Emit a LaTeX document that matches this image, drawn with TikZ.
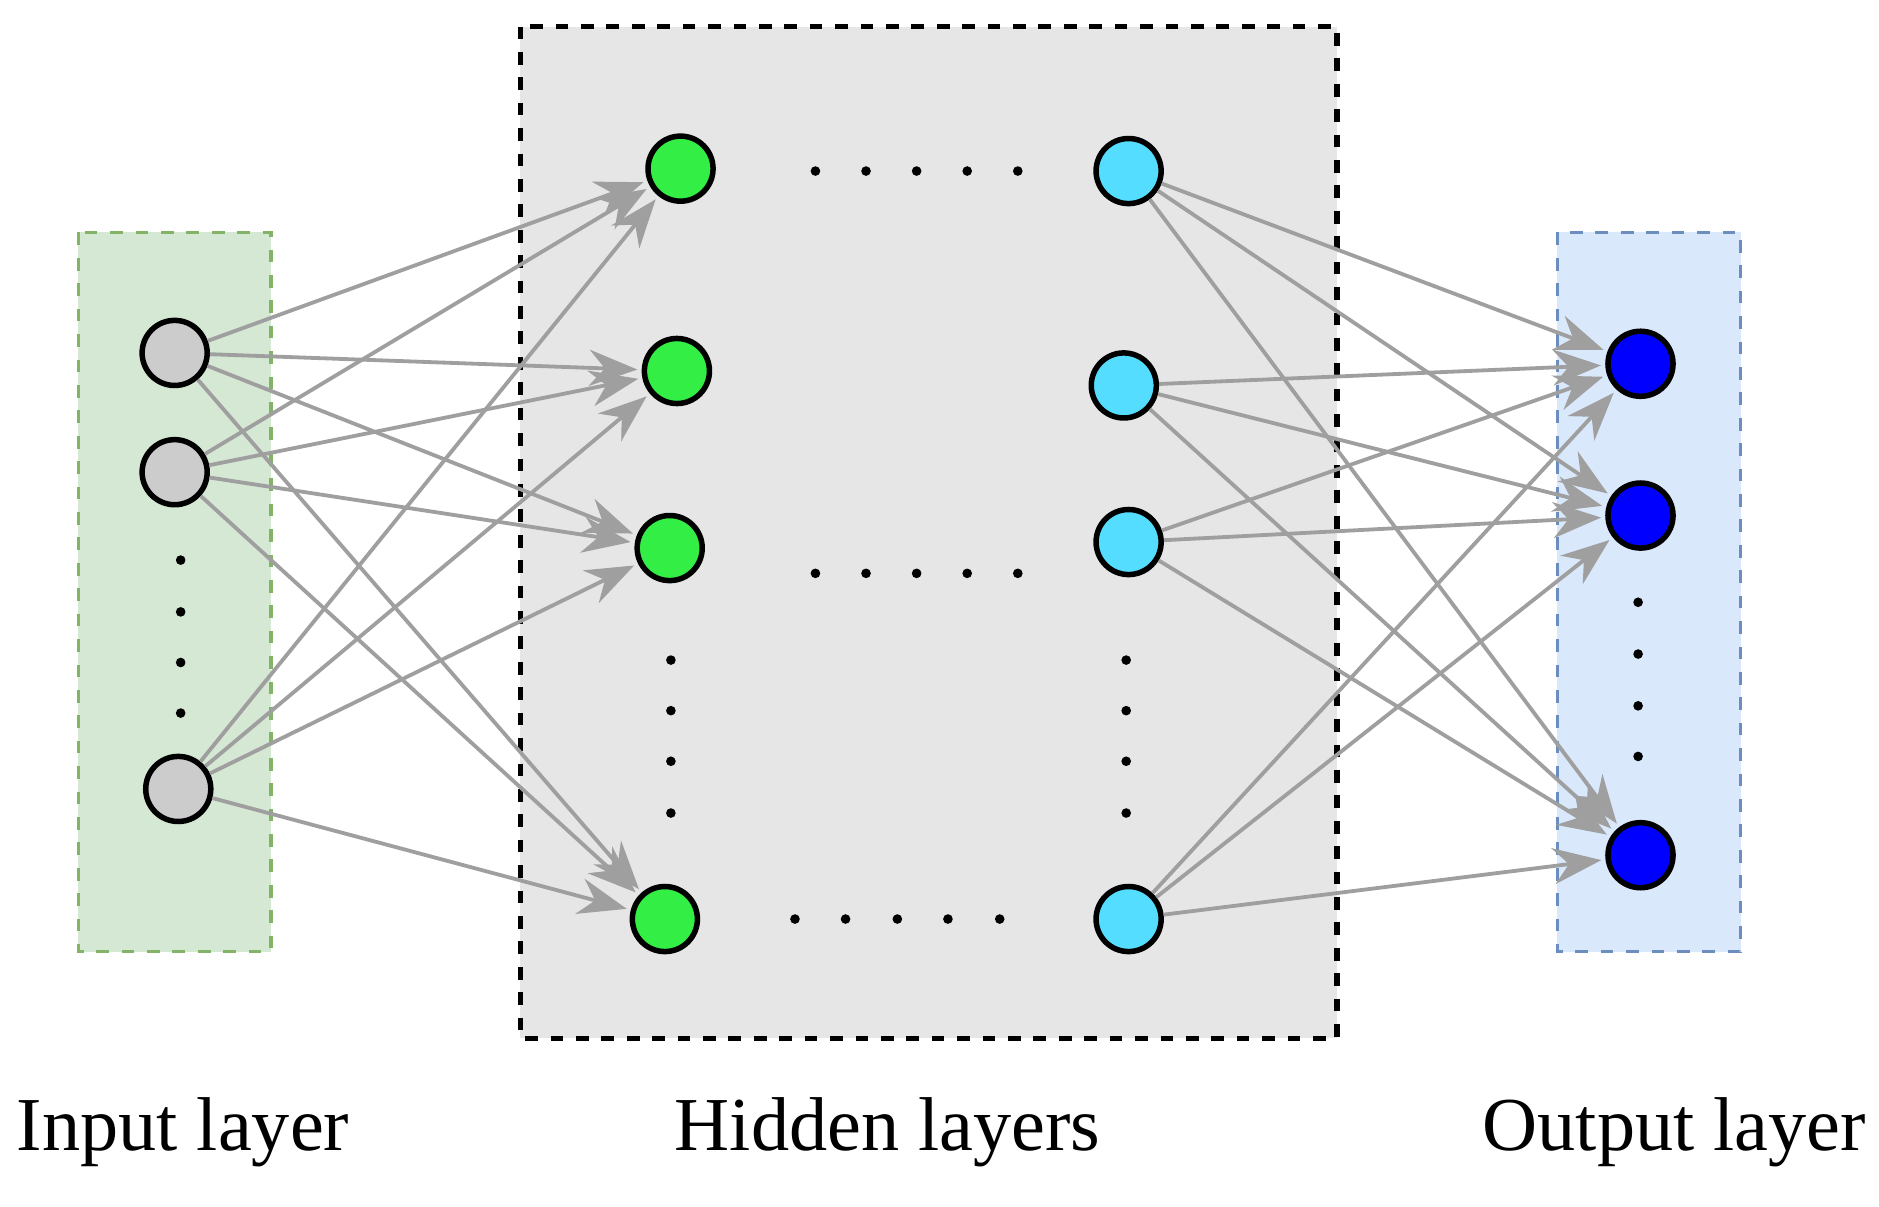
\documentclass[tikz,border=0pt]{standalone}
\usepackage{fontspec}
\setmainfont{Liberation Serif}
\usetikzlibrary{arrows.meta}
\begin{document}
\begin{tikzpicture}[x=0.01cm,y=-0.01cm,
  neu/.style={circle,draw=black,line width=1.3pt,minimum size=0.54cm,inner sep=0pt},
  con/.style={draw=gray!75,line width=0.9pt,-{Stealth[length=0.4cm,width=0.3cm]},shorten >=1pt},
  dot/.style={circle,fill=black,inner sep=0pt,minimum size=0.08cm},
  lab/.style={font=\fontsize{18}{20}\selectfont}]
\useasboundingbox (0,0) rectangle (1560,1002);
\fill[fill={rgb,255:red,213;green,232;blue,212},draw={rgb,255:red,130;green,179;blue,102},dashed,line width=0.8pt] (65,193) rectangle (225,790);
\fill[fill={rgb,255:red,230;green,230;blue,230}] (432,22) rectangle (1110,862);
\fill[fill={rgb,255:red,218;green,232;blue,252},draw={rgb,255:red,108;green,142;blue,191},dashed,line width=0.8pt] (1293,193) rectangle (1445,790);
\draw[dashed,line width=1.3pt] (432,22) rectangle (1110,862);
\colorlet{hg}{green!80!black!60!green}
\definecolor{hg}{RGB}{51,238,68}
\node[neu,fill=gray!40] (i1) at (145,293) {};
\node[neu,fill=gray!40] (i2) at (145,392) {};
\node[neu,fill=gray!40] (i3) at (148,655) {};
\node[neu,fill=hg] (h1) at (565,140) {};
\node[neu,fill=hg] (h2) at (562,308) {};
\node[neu,fill=hg] (h3) at (556,455) {};
\node[neu,fill=hg] (h4) at (552,763) {};
\node[neu,fill={rgb,255:red,85;green,221;blue,255}] (c1) at (937,142) {};
\node[neu,fill={rgb,255:red,85;green,221;blue,255}] (c2) at (933,320) {};
\node[neu,fill={rgb,255:red,85;green,221;blue,255}] (c3) at (937,450) {};
\node[neu,fill={rgb,255:red,85;green,221;blue,255}] (c4) at (937,763) {};
\node[neu,fill=blue] (o1) at (1362,302) {};
\node[neu,fill=blue] (o2) at (1362,428) {};
\node[neu,fill=blue] (o3) at (1362,710) {};
\foreach \i in {i1,i2,i3}{\foreach \h in {h1,h2,h3,h4}{\draw[con] (\i) -- (\h);}}
\foreach \c in {c1,c2,c3,c4}{\foreach \o in {o1,o2,o3}{\draw[con] (\c) -- (\o);}}
\foreach \y [count=\k] in {465,508,550,592}{\node[dot] (di\k) at (150,\y) {};}
\foreach \y [count=\k] in {500,543,586,628}{\node[dot] (do\k) at (1360,\y) {};}
\foreach \y [count=\k] in {548,590,632,675}{\node[dot] (dh\k) at (557,\y) {}; \node[dot] (dc\k) at (935,\y) {};}
\foreach \x [count=\k] in {677,719,761,803,845}{\node[dot] (da\k) at (\x,142) {}; \node[dot] (db\k) at (\x,476) {};}
\foreach \x [count=\k] in {660,702,745,787,830}{\node[dot] (dd\k) at (\x,763) {};}
\node[lab] (l1) at (152,940) {Input layer};
\node[lab] (l2) at (737,940) {Hidden layers};
\node[lab] (l3) at (1390,940) {Output layer};
\end{tikzpicture}
\end{document}
